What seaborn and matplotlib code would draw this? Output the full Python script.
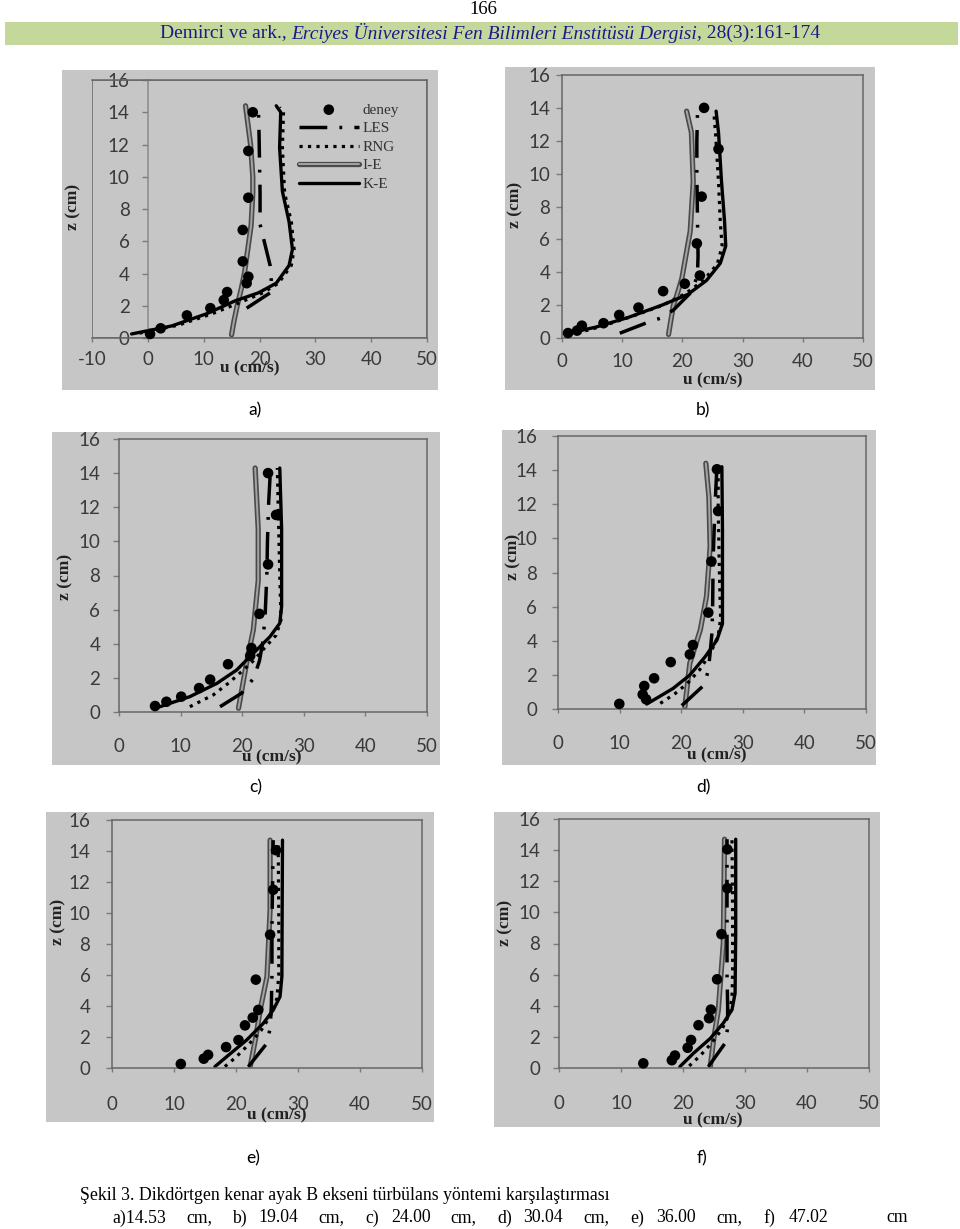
import matplotlib
matplotlib.use("Agg")
import matplotlib.pyplot as plt
import matplotlib.patheffects as pe
from matplotlib.patches import Rectangle
import seaborn as sns

W, H = 960, 1229

# ---------------- data ----------------
SERIES = ["deney", "LES", "RNG", "I-E", "K-E"]
PANEL_LABELS = ["a)", "b)", "c)", "d)", "e)", "f)"]
X_TICKS_A = [-10, 0, 10, 20, 30, 40, 50]
X_TICKS = [0, 10, 20, 30, 40, 50]
Y_TICKS = [0, 2, 4, 6, 8, 10, 12, 14, 16]

# panel a
A_DENEY_U = [0.4, 2.3, 7.0, 11.2, 13.6, 14.2, 17.7, 18.0, 17.0, 17.0, 18.0, 18.0, 18.8]
A_DENEY_Z = [0.25, 0.6, 1.4, 1.85, 2.35, 2.85, 3.4, 3.8, 4.75, 6.7, 8.7, 11.6, 14.0]
A_KE_U = [-2.9, 4.3, 10.5, 15.6, 19.8, 23.0, 25.3, 25.9, 25.3, 24.1, 23.6, 23.8, 23.0]
A_KE_Z = [0.25, 0.75, 1.5, 2.3, 2.8, 3.4, 4.5, 5.5, 7.2, 9.1, 11.8, 14.0, 14.4]
A_RNG_U = [-1.5, 5.5, 11.5, 16.5, 20.6, 23.4, 25.7, 26.2, 25.7, 24.5, 24.1, 24.3, 23.6]
A_RNG_Z = [0.3, 0.8, 1.5, 2.2, 2.8, 3.4, 4.5, 5.5, 7.2, 9.0, 11.8, 14.0, 14.3]
A_LES_U = [17.7, 21.9, 22.1, 21.9, 20.7, 20.1, 20.1, 20.0, 19.9, 19.8]
A_LES_Z = [1.85, 2.8, 3.6, 4.5, 6.2, 7.05, 9.0, 11.0, 13.0, 14.3]
A_IE_U = [15.0, 15.4, 16.0, 16.7, 17.3, 17.7, 18.5, 18.8, 18.8, 18.4, 17.5]
A_IE_Z = [0.2, 1.0, 2.0, 3.0, 4.0, 5.0, 7.0, 9.0, 10.0, 12.0, 14.4]

# panel b
B_DENEY_U = [1.0, 2.5, 3.3, 6.9, 9.5, 12.7, 16.8, 20.4, 22.9, 22.4, 23.2, 26.0, 23.6]
B_DENEY_Z = [0.3, 0.45, 0.75, 0.9, 1.4, 1.85, 2.85, 3.3, 3.8, 5.75, 8.6, 11.5, 14.0]
B_KE_U = [1.0, 5.5, 11.0, 16.6, 20.9, 24.0, 26.3, 27.2, 27.0, 26.5, 26.0, 25.6]
B_KE_Z = [0.29, 0.65, 1.25, 2.0, 2.65, 3.5, 4.55, 5.6, 7.1, 9.5, 12.5, 13.8]
B_RNG_U = [2.5, 6.5, 11.5, 16.8, 20.5, 23.5, 25.8, 26.6, 26.3, 26.0, 25.5, 25.2]
B_RNG_Z = [0.3, 0.7, 1.3, 2.0, 2.7, 3.5, 4.5, 5.6, 7.0, 9.5, 12.5, 13.8]
B_LES_U = [9.6, 14.1, 16.3, 18.5, 21.5, 22.5, 22.6, 22.5, 22.4, 22.4, 22.5]
B_LES_Z = [0.29, 0.93, 1.2, 1.7, 2.8, 3.8, 5.0, 7.3, 10.0, 12.0, 13.6]
B_IE_U = [17.7, 18.5, 19.0, 19.9, 21.3, 21.8, 21.5, 20.7]
B_IE_Z = [0.22, 2.0, 2.5, 3.6, 6.5, 9.5, 12.5, 13.8]

# panel c
C_DENEY_U = [5.85, 7.7, 10.1, 13.0, 14.8, 17.7, 21.3, 21.5, 22.8, 24.2, 25.5, 24.2]
C_DENEY_Z = [0.35, 0.6, 0.9, 1.4, 1.9, 2.8, 3.3, 3.75, 5.75, 8.65, 11.55, 14.0]
C_KE_U = [6.65, 11.5, 15.9, 19.1, 21.8, 24.5, 26.1, 26.4, 26.4, 26.1]
C_KE_Z = [0.31, 0.9, 1.68, 2.46, 3.44, 4.41, 5.2, 6.2, 10.7, 14.3]
C_RNG_U = [11.5, 15.3, 17.8, 20.0, 21.8, 23.5, 25.5, 26.3, 26.1, 25.7]
C_RNG_Z = [0.31, 1.0, 1.7, 2.4, 3.0, 3.7, 4.5, 5.4, 8.0, 14.3]
C_LES_U = [16.4, 19.9, 21.9, 22.8, 23.3, 23.7, 24.0, 24.1, 24.3, 24.6]
C_LES_Z = [0.31, 1.1, 2.0, 3.0, 4.0, 5.5, 8.0, 10.0, 12.3, 14.3]
C_IE_U = [19.4, 20.7, 21.8, 22.6, 22.6, 22.1]
C_IE_Z = [0.22, 2.85, 4.8, 7.7, 10.7, 14.3]

# panel d
D_DENEY_U = [9.95, 14.3, 13.75, 14.0, 15.6, 18.3, 21.4, 21.9, 24.4, 24.9, 26.0, 25.8]
D_DENEY_Z = [0.3, 0.57, 0.85, 1.35, 1.8, 2.75, 3.2, 3.75, 5.65, 8.65, 11.6, 14.05]
D_KE_U = [14.4, 16.0, 18.7, 21.4, 23.9, 25.8, 26.7, 26.7, 26.7, 26.6]
D_KE_Z = [0.29, 0.63, 1.21, 1.99, 3.07, 4.04, 5.0, 6.6, 10.5, 14.2]
D_RNG_U = [16.6, 19.0, 21.0, 23.0, 24.8, 26.0, 26.4, 26.2, 26.0, 26.0]
D_RNG_Z = [0.33, 0.9, 1.5, 2.3, 3.3, 4.3, 5.3, 8.0, 12.0, 14.2]
D_LES_U = [20.1, 23.7, 24.4, 24.7, 25.0, 25.1, 25.2, 25.5, 25.8]
D_LES_Z = [0.2, 1.4, 2.25, 3.3, 4.5, 6.0, 9.0, 12.0, 14.2]
D_IE_U = [20.6, 21.4, 23.1, 24.1, 24.7, 24.5, 24.0]
D_IE_Z = [0.13, 2.68, 4.63, 6.58, 9.5, 12.4, 14.4]

# panel e
E_DENEY_U = [11.1, 14.8, 15.5, 18.4, 20.4, 21.45, 22.7, 23.6, 23.2, 25.5, 26.0, 26.45]
E_DENEY_Z = [0.26, 0.6, 0.85, 1.35, 1.8, 2.75, 3.25, 3.75, 5.7, 8.6, 11.5, 14.05]
E_KE_U = [16.6, 18.5, 21.7, 24.4, 26.0, 27.1, 27.4, 27.5]
E_KE_Z = [0.09, 0.73, 1.8, 2.88, 3.74, 4.6, 5.9, 14.7]
E_RNG_U = [18.2, 20.0, 22.0, 24.0, 25.6, 26.6, 26.9, 26.9, 26.8]
E_RNG_Z = [0.09, 0.7, 1.5, 2.4, 3.4, 4.5, 6.0, 10.0, 14.7]
E_LES_U = [22.0, 25.0, 25.5, 25.7, 25.8, 25.8, 25.9, 26.0]
E_LES_Z = [0.09, 1.6, 2.56, 4.0, 6.0, 9.0, 12.0, 14.7]
E_IE_U = [22.3, 23.2, 23.9, 25.0, 25.5, 25.5]
E_IE_Z = [0.1, 2.0, 3.74, 5.9, 10.2, 14.7]

# panel f
F_DENEY_U = [13.6, 18.2, 18.7, 20.75, 21.3, 22.5, 24.2, 24.5, 25.5, 26.2, 27.15, 27.15]
F_DENEY_Z = [0.3, 0.5, 0.8, 1.3, 1.8, 2.75, 3.2, 3.75, 5.7, 8.6, 11.55, 14.05]
F_KE_U = [19.5, 21.7, 24.4, 26.5, 27.9, 28.4, 28.5, 28.5]
F_KE_Z = [0.09, 0.95, 1.9, 2.88, 3.74, 4.8, 8.6, 14.7]
F_RNG_U = [21.0, 22.8, 24.6, 26.3, 27.4, 27.9, 28.0, 28.0, 27.9]
F_RNG_Z = [0.13, 0.8, 1.6, 2.5, 3.4, 4.5, 6.0, 10.0, 14.7]
F_LES_U = [24.1, 26.8, 27.2, 27.2, 27.1, 27.1, 27.1, 27.1]
F_LES_Z = [0.09, 1.6, 2.56, 4.0, 6.0, 9.0, 12.0, 14.7]
F_IE_U = [24.4, 25.0, 25.7, 26.5, 26.7]
F_IE_Z = [0.09, 2.0, 3.74, 8.0, 14.7]

HEADER_PAGE = "166"
HEADER_PIECES = [("Demirci ve ark., ", "normal"),
                 ("Erciyes Üniversitesi Fen Bilimleri Enstitüsü Dergisi", "italic"),
                 (", 28(3):161-174", "normal")]
CAPTION_1 = "Şekil 3. Dikdörtgen kenar ayak B ekseni türbülans yöntemi karşılaştırması"
CAPTION_2 = ["a)14.53", "cm,", "b)", "19.04", "cm,", "c)", "24.00", "cm,", "d)", "30.04",
             "cm,", "e)", "36.00", "cm,", "f)", "47.02", "cm"]
CAPTION_2_X = [112, 186, 232, 258, 318, 365, 391, 450, 497, 523, 583, 630, 656, 716, 763, 789, 886]

DATA = {
    "a": {"deney": (A_DENEY_U, A_DENEY_Z), "LES": (A_LES_U, A_LES_Z), "RNG": (A_RNG_U, A_RNG_Z),
          "I-E": (A_IE_U, A_IE_Z), "K-E": (A_KE_U, A_KE_Z)},
    "b": {"deney": (B_DENEY_U, B_DENEY_Z), "LES": (B_LES_U, B_LES_Z), "RNG": (B_RNG_U, B_RNG_Z),
          "I-E": (B_IE_U, B_IE_Z), "K-E": (B_KE_U, B_KE_Z)},
    "c": {"deney": (C_DENEY_U, C_DENEY_Z), "LES": (C_LES_U, C_LES_Z), "RNG": (C_RNG_U, C_RNG_Z),
          "I-E": (C_IE_U, C_IE_Z), "K-E": (C_KE_U, C_KE_Z)},
    "d": {"deney": (D_DENEY_U, D_DENEY_Z), "LES": (D_LES_U, D_LES_Z), "RNG": (D_RNG_U, D_RNG_Z),
          "I-E": (D_IE_U, D_IE_Z), "K-E": (D_KE_U, D_KE_Z)},
    "e": {"deney": (E_DENEY_U, E_DENEY_Z), "LES": (E_LES_U, E_LES_Z), "RNG": (E_RNG_U, E_RNG_Z),
          "I-E": (E_IE_U, E_IE_Z), "K-E": (E_KE_U, E_KE_Z)},
    "f": {"deney": (F_DENEY_U, F_DENEY_Z), "LES": (F_LES_U, F_LES_Z), "RNG": (F_RNG_U, F_RNG_Z),
          "I-E": (F_IE_U, F_IE_Z), "K-E": (F_KE_U, F_KE_Z)},
}

# ---------------- layout / style ----------------
GRAY = "#c6c6c6"
BORDER = "#666666"
TICKC = "#3a3a3a"
SERIF = ["Liberation Serif", "DejaVu Serif"]
SANS = ["Lato", "DejaVu Sans"]
TICKSIZE = 13.5

PANELS = [
    dict(key="a", box=(62, 70, 438, 390), plot=(92, 80, 427, 338), xlim=(-10, 50), xticks=X_TICKS_A,
         ypad=9, xpad=6, xlab=(250, 368), ylab=(73, 207), letter=(255, 410), legend=True),
    dict(key="b", box=(505, 67, 875, 390), plot=(562, 75, 863, 338), xlim=(0, 50), xticks=X_TICKS,
         ypad=4.5, xpad=8, xlab=(713, 380), ylab=(515, 205), letter=(703, 410), legend=False),
    dict(key="c", box=(52, 432, 440, 765), plot=(119, 439, 427, 712), xlim=(0, 50), xticks=X_TICKS,
         ypad=9.5, xpad=15.5, xlab=(272, 757), ylab=(65, 577), letter=(256, 787), legend=False),
    dict(key="d", box=(502, 430, 876, 765), plot=(558, 436, 866, 709), xlim=(0, 50), xticks=X_TICKS,
         ypad=11, xpad=15.5, xlab=(717, 755), ylab=(513, 557), letter=(703, 787), legend=False),
    dict(key="e", box=(46, 812, 434, 1122), plot=(112, 820, 422, 1068), xlim=(0, 50), xticks=X_TICKS,
         ypad=11.5, xpad=17, xlab=(277, 1115), ylab=(58, 922), letter=(253, 1158), legend=False),
    dict(key="f", box=(494, 812, 880, 1127), plot=(559, 819, 869, 1068), xlim=(0, 50), xticks=X_TICKS,
         ypad=9.5, xpad=16.5, xlab=(713, 1120), ylab=(505, 923), letter=(702, 1158), legend=False),
]


def fx(x):
    return x / W


def fy(y):
    return 1 - y / H


sns.set_style("white")
plt.rcParams["axes.unicode_minus"] = False
fig = plt.figure(figsize=(9.6, 12.29), dpi=100)
fig.patch.set_facecolor("white")

LINE_STYLES = {
    "I-E": dict(color="#a4a4a4", lw=1.4,
                path_effects=[pe.Stroke(linewidth=3.8, foreground="#4a4a4a"), pe.Normal()]),
    "K-E": dict(color="black", lw=2.4),
    "RNG": dict(color="black", lw=2.3, linestyle=":"),
    "LES": dict(color="black", lw=2.5, linestyle=(0, (8, 3.5, 0.8, 3.5))),
}

for spec, letter in zip(PANELS, PANEL_LABELS):
    bx0, by0, bx1, by1 = spec["box"]
    fig.patches.append(Rectangle((fx(bx0), fy(by1)), (bx1 - bx0) / W, (by1 - by0) / H,
                                 transform=fig.transFigure, facecolor=GRAY, edgecolor="none", zorder=-10))
    l, t, r, b = spec["plot"]
    ax = fig.add_axes([fx(l), fy(b), (r - l) / W, (b - t) / H])
    ax.set_zorder(2)
    ax.set_facecolor(GRAY)
    d = DATA[spec["key"]]
    for name in ["I-E", "K-E", "RNG", "LES"]:
        u, z = d[name]
        sns.lineplot(x=u, y=z, sort=False, estimator=None, ax=ax, legend=False,
                     label=name, **LINE_STYLES[name])
    u, z = d["deney"]
    sns.scatterplot(x=u, y=z, ax=ax, color="black", s=58, edgecolor="none", legend=False,
                    label="deney", clip_on=False, zorder=5)

    ax.set_xlim(*spec["xlim"])
    ax.set_ylim(0, 16)
    ax.set_xticks(spec["xticks"])
    ax.set_yticks(Y_TICKS)
    ax.set_xlabel("")
    ax.set_ylabel("")
    for s in ax.spines.values():
        s.set_color(BORDER)
        s.set_linewidth(1.1)
    if spec["xlim"][0] < 0:
        ax.spines["left"].set_position(("data", 0))
        ax.spines["left"].set_color("#8a8a8a")
        ax.add_patch(Rectangle((0, 0), 1, 1, transform=ax.transAxes, fill=False,
                               edgecolor=BORDER, linewidth=1.1, zorder=0.5))
    ax.tick_params(axis="y", left=True, length=4, width=1, color="#7a7a7a",
                   pad=spec["ypad"], labelsize=TICKSIZE, labelcolor=TICKC)
    ax.tick_params(axis="x", bottom=True, length=3, width=1, color="#7a7a7a",
                   pad=spec["xpad"], labelsize=TICKSIZE, labelcolor=TICKC)
    for lab in ax.get_xticklabels() + ax.get_yticklabels():
        lab.set_fontfamily(SANS)

    fig.text(fx(spec["xlab"][0]), fy(spec["xlab"][1]), "u (cm/s)", ha="center", va="center",
             family=SERIF, fontweight="bold", fontsize=12.5, color="#222222", zorder=5)
    fig.text(fx(spec["ylab"][0]), fy(spec["ylab"][1]), "z (cm)", ha="center", va="center",
             rotation=90, family=SERIF, fontweight="bold", fontsize=12.5, color="#222222", zorder=5)
    fig.text(fx(spec["letter"][0]), fy(spec["letter"][1]), letter, ha="center", va="center",
             family=SANS, fontsize=12.5, color="black")

    if spec["legend"]:
        hmap = {}
        for ln in ax.lines:
            hmap[ln.get_label()] = ln
        for coll in ax.collections:
            hmap[coll.get_label()] = coll
        handles = [hmap[n] for n in SERIES]
        leg = ax.legend(handles, SERIES, loc="upper left",
                        bbox_to_anchor=(fx(299), fy(103)), bbox_transform=fig.transFigure,
                        frameon=False, prop={"family": SERIF, "size": 11}, handlelength=3.9,
                        handletextpad=0.25, labelspacing=0.32, borderpad=0, borderaxespad=0)
        for txt in leg.get_texts():
            txt.set_color("#333333")

# ---------------- header ----------------
fig.text(fx(483), fy(10), HEADER_PAGE, ha="center", va="center", family=SERIF,
         fontsize=13.5, color="black")
fig.patches.append(Rectangle((fx(5), fy(45)), (958 - 5) / W, (45 - 22) / H,
                             transform=fig.transFigure, facecolor="#c5d89c", edgecolor="none", zorder=-10))
renderer = fig.canvas.get_renderer()
pieces = []
total = 0.0
for s, st in HEADER_PIECES:
    t = fig.text(0, 0, s, family=SERIF, fontstyle=st, fontsize=14, color="#1a1a8c",
                 ha="left", va="center")
    w = t.get_window_extent(renderer).width
    pieces.append((t, w))
    total += w
x = 490 - total / 2
for t, w in pieces:
    t.set_position((fx(x), fy(33)))
    x += w

# ---------------- caption ----------------
fig.text(fx(80), fy(1195), CAPTION_1, ha="left", va="center", family=SERIF, fontsize=12.8, color="black")
for s, xx in zip(CAPTION_2, CAPTION_2_X):
    fig.text(fx(xx), fy(1218), s, ha="left", va="center", family=SERIF, fontsize=12.8, color="black")

fig.savefig("out.png", dpi=100, facecolor="white")
